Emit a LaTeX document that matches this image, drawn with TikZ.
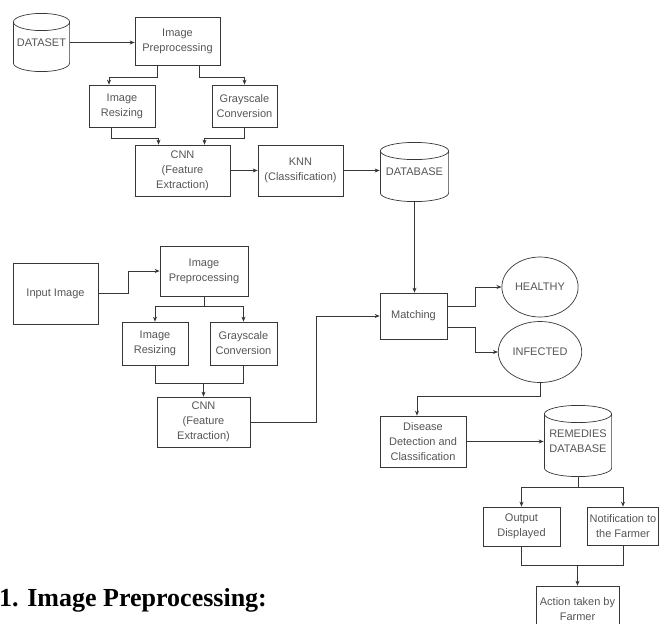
\documentclass[tikz,border=0pt]{standalone}
\usepackage{fontspec}
\setsansfont{Liberation Sans}
\newfontfamily\headfont{Liberation Serif}
\usetikzlibrary{arrows.meta,positioning,shapes.geometric}
\definecolor{flowline}{RGB}{55,55,55}
\definecolor{flowtext}{RGB}{85,85,85}

\begin{document}
\begin{tikzpicture}[x=1pt,y=-1pt,
  box/.style={draw=flowline,line width=0.7pt,align=center,inner sep=2pt,
              font=\sffamily\fontsize{11}{15}\selectfont,text=flowtext},
  % drum drawn inside its own rectangle, so the text sits in the middle
  store/.style={box,draw=none,minimum width=#1,path picture={
    \draw[link]
      ([xshift=0.4pt,yshift=-9pt]path picture bounding box.north west)
      -- ([xshift=0.4pt,yshift=9pt]path picture bounding box.south west)
      arc[start angle=180,end angle=360,x radius=#1/2-0.4pt,y radius=8.6pt]
      -- ([xshift=-0.4pt,yshift=-9pt]path picture bounding box.north east)
      arc[start angle=0,end angle=360,x radius=#1/2-0.4pt,y radius=8.6pt];
  }},
  outcome/.style={box,ellipse},
  arr/.style={-{Stealth[length=5pt,width=4pt]},flowline,line width=0.7pt},
  link/.style={flowline,line width=0.7pt},
]
\useasboundingbox (0,0) rectangle (659,624);

% ---- Training: dataset to database ----
\node[store=57pt,minimum height=59pt] (dataset) at (41.5,42.5) {DATASET};
\node[box,minimum width=85pt,minimum height=48pt] (prepA) at (177.5,41) {Image\\Preprocessing};
\node[box,minimum width=66pt,minimum height=42pt] (resizeA) at (122,106) {Image\\Resizing};
\node[box,minimum width=65pt,minimum height=42pt] (grayA) at (244.5,106) {Grayscale\\Conversion};
\node[box,minimum width=95pt,minimum height=51pt] (cnnA) at (182.5,170.5) {CNN\\(Feature\\Extraction)};
\node[box,minimum width=85pt,minimum height=51pt] (knn) at (300.5,170.5) {KNN\\(Classification)};
\node[store=69pt,minimum height=60pt] (database) at (414.5,172) {DATABASE};

\draw[arr] (dataset.east) -- (dataset.east -| prepA.west);
\draw[arr] ([xshift=-20pt]prepA.south) -- ++(0,12) -| ([xshift=-13pt]resizeA.north);
\draw[arr] ([xshift=22pt]prepA.south) -- ++(0,12) -| (grayA.north);
\draw[arr] ([xshift=-11pt]resizeA.south) -- ++(0,11) -| ([xshift=-24pt]cnnA.north);
\draw[arr] (grayA.south) -- ++(0,11) -| ([xshift=22pt]cnnA.north);
\draw[arr] (cnnA.east) -- (knn.west);
\draw[arr] (knn.east) -- (knn.east -| database.west);

% ---- Testing: input image to matching ----
\node[box,minimum width=85pt,minimum height=61pt] (input) at (55.5,293.5) {Input Image};
\node[box,minimum width=88pt,minimum height=50pt] (prepB) at (204,271) {Image\\Preprocessing};
\node[box,minimum width=66pt,minimum height=43pt] (resizeB) at (155,343.5) {Image\\Resizing};
\node[box,minimum width=67pt,minimum height=43pt] (grayB) at (243.5,343.5) {Grayscale\\Conversion};
\node[box,minimum width=93pt,minimum height=50pt] (cnnB) at (203.5,422) {CNN\\(Feature\\Extraction)};
\node[box,minimum width=67pt,minimum height=46pt] (matching) at (413.5,316) {Matching};

\draw[arr] (input.east) -- ++(30,0) |- (prepB.west);
\draw[arr] (prepB.south) -- ++(0,10) -| (resizeB.north);
\draw[arr] (prepB.south) -- ++(0,10) -| (grayB.north);
\draw[link] (resizeB.south) -- ++(0,18) coordinate (joinB) -| (grayB.south);
\draw[arr] (joinB -| cnnB.north) -- (cnnB.north);
\draw[arr] (cnnB.east) -- ++(66,0) |- (matching.west);
\draw[arr] (database.south) -- (database.south |- matching.north);

% ---- Result and remedies ----
\node[outcome,minimum width=76pt,minimum height=60pt] (healthy) at (540,287) {HEALTHY};
\node[outcome,minimum width=76pt,minimum height=61pt] (infected) at (540,352) {INFECTED};
\node[box,minimum width=86pt,minimum height=51pt] (disease) at (423,441.5) {Disease\\Detection and\\Classification};
\node[store=68pt,minimum height=72pt] (remedies) at (578,441) {REMEDIES\\DATABASE};
\node[box,minimum width=77pt,minimum height=39pt] (output) at (521.5,526.5) {Output\\Displayed};
\node[box,minimum width=70pt,minimum height=38pt] (notify) at (623,526) {Notification to\\the Farmer};
\node[box,minimum width=83pt,minimum height=46pt] (action) at (577.5,609) {Action taken by\\Farmer};

\draw[arr] ([yshift=10pt]matching.east) -- ++(28,0) |- (healthy.west);
\draw[arr] ([yshift=-11pt]matching.east) -- ++(28,0) |- (infected.west);
\draw[arr] (infected.south) -- ++(0,13) -| ([xshift=-6pt]disease.north);
\draw[arr] (disease.east) -- (disease.east -| remedies.west);
\draw[arr] (remedies.south) -- ++(0,10) -| (output.north);
\draw[arr] (remedies.south) -- ++(0,10) -| (notify.north);
\draw[link] (output.south) -- ++(0,19) coordinate (joinC) -| (notify.south);
\draw[arr] (joinC -| action.north) -- (action.north);

% ---- Caption ----
\node[anchor=base west,inner sep=0pt,font=\headfont\bfseries\fontsize{26}{30}\selectfont] (caption) at (-1,606) {1. Image Preprocessing:};
\end{tikzpicture}
\end{document}
